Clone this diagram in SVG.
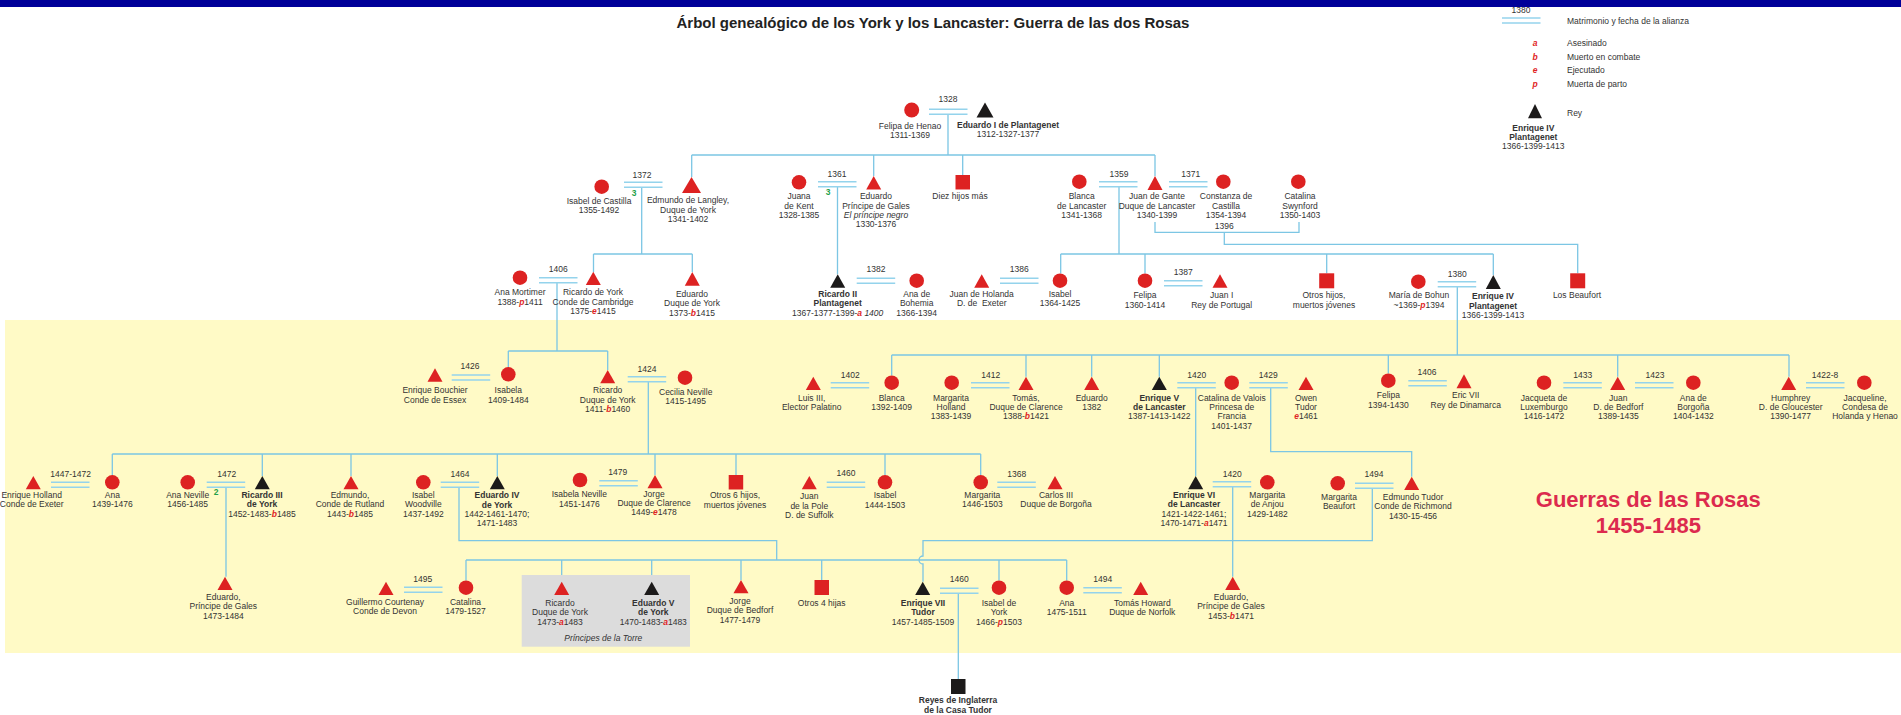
<svg xmlns="http://www.w3.org/2000/svg" xmlns:xlink="http://www.w3.org/1999/xlink" width="1901" height="715" viewBox="0 0 1901 715">
<style>
.t{font-family:"Liberation Sans",Arial,sans-serif;font-size:8.5px;fill:#333;text-anchor:middle}
.l{text-anchor:start}
.b{font-weight:bold}
.r{fill:#E02424;font-weight:bold;font-style:italic}
.i{font-style:italic}
.g{fill:#1FA04A;font-weight:bold}
.red{fill:#DD2222}
.blk{fill:#1C1A1A}
.ln{stroke:#7CC6E4;stroke-width:1.3;fill:none}
.mar line{stroke:#94D3EC;stroke-width:1.6}
.title{font-family:"Liberation Sans",Arial,sans-serif;font-size:15px;font-weight:bold;fill:#222;text-anchor:middle}
.war{font-family:"Liberation Sans",Arial,sans-serif;font-size:22px;font-weight:bold;fill:#DC2A4E;text-anchor:middle}
</style>
<defs>
<g id="m" class="mar"><line x1="0" y1="0" x2="38.5" y2="0"/><line x1="0" y1="5" x2="38.5" y2="5"/></g>
</defs>
<rect x="0" y="0" width="1901" height="715" fill="#fff"/>
<rect x="5" y="320" width="1896" height="333" fill="#FFFAC6"/>
<text class="title" x="933" y="28">Árbol genealógico de los York y los Lancaster: Guerra de las dos Rosas</text>

<g id="legend">
<text class="t" x="1521" y="12.5">1380</text>
<use href="#m" x="1502" y="18"/>
<text class="t l" x="1567" y="23.5">Matrimonio y fecha de la alianza</text>
<text class="t r" x="1535" y="46">a</text><text class="t l" x="1567" y="46">Asesinado</text>
<text class="t r" x="1535" y="60">b</text><text class="t l" x="1567" y="60">Muerto en combate</text>
<text class="t r" x="1535" y="73">e</text><text class="t l" x="1567" y="73">Ejecutado</text>
<text class="t r" x="1535" y="87">p</text><text class="t l" x="1567" y="87">Muerta de parto</text>
<path class="blk" d="M1535 104L1542 118.3L1528 118.3Z"/>
<text class="t l" x="1567" y="115.5">Rey</text>
<text class="t"><tspan class="b" x="1533.3" y="130.7">Enrique IV</tspan><tspan class="b" x="1533.3" y="140">Plantagenet</tspan><tspan x="1533.3" y="149.3">1366-1399-1413</tspan></text>
</g>
<rect x="0" y="0" width="1901" height="7" fill="#000099"/>

<g id="connectors">
<path class="ln" d="M948 115V155M691.7 155H1155M691.7 155V177M873.7 155V176M962.7 155V175M1155 155V176
M641.7 188V254M593.5 254H692.3M593.5 254V272M692.3 254V272
M837.5 187V274.3
M1119 187V254M1060.7 254H1493.3M1060.7 254V273.4M1145 254V273.4M1326.7 254V273.3M1493.3 254V275
M1155 222V232.3H1299V222M1224.3 232.3V244.3H1577.7V273.3
M557 283V351M508.3 351H607.7M508.3 351V367M607.7 351V370
M1457.3 287V355M891.7 355H1789M891.7 355V375.4M1026 355V376.7M1091.7 355V376.7M1159.3 355V376.7M1388.3 355V373.4M1617.7 355V376.7M1789 355V376.7
M648.3 382V454M112.3 454H980.7M112.3 454V475M262.3 454V476M351 454V476M497.3 454V476M655 454V475M736 454V475M885 454V475M980.7 454V475
M1195.7 388V476M1270.7 388V451.7H1411.7V476.7
M226 487V576.7
M459 487V540.7H776.7V560M466 560H1066.7M466 560V580.4M561.7 560V581.7M651.7 560V581.7M741 560V580M821.7 560V580M999 560V580.4M1066.7 560V580.4
M1232.7 486V576.7
M1372.3 488V540.7H923V556A4 4 0 0 0 923 564V581.7
M958.3 593V679"/>
<use href="#m" x="929" y="109.3"/><text class="t" x="948" y="102">1328</text>
<use href="#m" x="624" y="182.3"/><text class="t" x="642" y="178">1372</text><text class="t g" x="634" y="196">3</text>
<use href="#m" x="818" y="181.7"/><text class="t" x="837" y="177">1361</text><text class="t g" x="828" y="195">3</text>
<use href="#m" x="1099" y="181.7"/><text class="t" x="1119" y="177">1359</text>
<use href="#m" x="1169" y="181.7"/><text class="t" x="1190.7" y="177">1371</text>
<text class="t" x="1224.3" y="229">1396</text>
<use href="#m" x="539" y="277.7"/><text class="t" x="558.3" y="272.3">1406</text>
<use href="#m" x="856.7" y="278.3"/><text class="t" x="876" y="272.3">1382</text>
<use href="#m" x="1000" y="278.3"/><text class="t" x="1019.3" y="272.3">1386</text>
<use href="#m" x="1164" y="280.7"/><text class="t" x="1183.3" y="275">1387</text>
<use href="#m" x="1437.7" y="281.7"/><text class="t" x="1457.3" y="276.7">1380</text>
<use href="#m" x="451.7" y="375"/><text class="t" x="470" y="369.3">1426</text>
<use href="#m" x="627.7" y="376.7"/><text class="t" x="647" y="371.7">1424</text>
<use href="#m" x="830.7" y="382.7"/><text class="t" x="850.3" y="377.7">1402</text>
<use href="#m" x="971" y="382.7"/><text class="t" x="990.7" y="377.7">1412</text>
<use href="#m" x="1177.3" y="382.7"/><text class="t" x="1196.7" y="377.7">1420</text>
<use href="#m" x="1249.3" y="382.7"/><text class="t" x="1268.3" y="377.7">1429</text>
<use href="#m" x="1408.3" y="380.7"/><text class="t" x="1427" y="375">1406</text>
<use href="#m" x="1563.3" y="382.7"/><text class="t" x="1582.7" y="377.7">1433</text>
<use href="#m" x="1635" y="382.7"/><text class="t" x="1655" y="377.7">1423</text>
<use href="#m" x="1806" y="382.7"/><text class="t" x="1825" y="377.7">1422-8</text>
<use href="#m" x="51" y="482.3"/><text class="t" x="70.7" y="476.7">1447-1472</text>
<use href="#m" x="206.7" y="482.3"/><text class="t" x="226.7" y="476.7">1472</text><text class="t g" x="216" y="495">2</text>
<use href="#m" x="440.7" y="482.3"/><text class="t" x="460" y="476.7">1464</text>
<use href="#m" x="599.3" y="480.7"/><text class="t" x="617.7" y="474.5">1479</text>
<use href="#m" x="826.7" y="482.3"/><text class="t" x="846" y="476">1460</text>
<use href="#m" x="997.3" y="482.3"/><text class="t" x="1016.7" y="476.7">1368</text>
<use href="#m" x="1212.7" y="481.7"/><text class="t" x="1232.3" y="476.7">1420</text>
<use href="#m" x="1355" y="483.3"/><text class="t" x="1374" y="477.3">1494</text>
<use href="#m" x="404" y="587.3"/><text class="t" x="422.7" y="581.7">1495</text>
<use href="#m" x="940" y="588.3"/><text class="t" x="959.3" y="582.3">1460</text>
<use href="#m" x="1083.3" y="587.7"/><text class="t" x="1102.7" y="581.7">1494</text>
</g>

<g id="n-felipa-henao"><circle class="red" cx="911.7" cy="110" r="7.5"/><text class="t"><tspan x="910" y="129">Felipa de Henao</tspan><tspan x="910" y="138">1311-1369</tspan></text></g>
<g id="n-eduardo-i"><path class="blk" d="M985 102.5L993.5 117.5L976.5 117.5Z"/><text class="t"><tspan class="b" x="1008" y="128">Eduardo I de Plantagenet</tspan><tspan x="1008" y="137">1312-1327-1377</tspan></text></g>
<g id="n-isabel-castilla"><circle class="red" cx="601.7" cy="186.7" r="7.3"/><text class="t"><tspan x="599" y="204">Isabel de Castilla</tspan><tspan x="599" y="213">1355-1492</tspan></text></g>
<g id="n-edmundo-langley"><path class="red" d="M691.5 177L701 193L682 193Z"/><text class="t"><tspan x="688" y="203">Edmundo de Langley,</tspan><tspan x="688" y="212.5">Duque de York</tspan><tspan x="688" y="222">1341-1402</tspan></text></g>
<g id="n-juana-kent"><circle class="red" cx="799" cy="182.3" r="7.3"/><text class="t"><tspan x="799" y="199">Juana</tspan><tspan x="799" y="208.5">de Kent</tspan><tspan x="799" y="218">1328-1385</tspan></text></g>
<g id="n-eduardo-principe-negro"><path class="red" d="M873.7 176L881.2 189.5L866.2 189.5Z"/><text class="t"><tspan x="876" y="199">Eduardo</tspan><tspan x="876" y="208.5">Príncipe de Gales</tspan><tspan class="i" x="876" y="218">El príncipe negro</tspan><tspan x="876" y="227">1330-1376</tspan></text></g>
<g id="n-diez-hijos"><rect class="red" x="955.5" y="175" width="14.5" height="14.5"/><text class="t" x="960" y="199">Diez hijos más</text></g>
<g id="n-blanca-lancaster"><circle class="red" cx="1079.3" cy="181.7" r="7.3"/><text class="t"><tspan x="1081.7" y="199">Blanca</tspan><tspan x="1081.7" y="208.5">de Lancaster</tspan><tspan x="1081.7" y="218">1341-1368</tspan></text></g>
<g id="n-juan-gante"><path class="red" d="M1155 176L1162.5 190L1147.5 190Z"/><text class="t"><tspan x="1157" y="199">Juan de Gante</tspan><tspan x="1157" y="208.5">Duque de Lancaster</tspan><tspan x="1157" y="218">1340-1399</tspan></text></g>
<g id="n-constanza"><circle class="red" cx="1223.3" cy="181.7" r="7.3"/><text class="t"><tspan x="1226" y="199">Constanza de</tspan><tspan x="1226" y="208.5">Castilla</tspan><tspan x="1226" y="218">1354-1394</tspan></text></g>
<g id="n-catalina-swynford"><circle class="red" cx="1298.3" cy="181.7" r="7.3"/><text class="t"><tspan x="1300" y="199">Catalina</tspan><tspan x="1300" y="208.5">Swynford</tspan><tspan x="1300" y="218">1350-1403</tspan></text></g>

<g id="n-ana-mortimer"><circle class="red" cx="520" cy="277.7" r="7.3"/><text class="t"><tspan x="520" y="295">Ana Mortimer</tspan><tspan x="520" y="304.5">1388-<tspan class="r">p</tspan>1411</tspan></text></g>
<g id="n-ricardo-cambridge"><path class="red" d="M593.3 271.7L600.8 285L585.8 285Z"/><text class="t"><tspan x="593" y="295">Ricardo de York</tspan><tspan x="593" y="304.5">Conde de Cambridge</tspan><tspan x="593" y="314">1375-<tspan class="r">e</tspan>1415</tspan></text></g>
<g id="n-eduardo-york"><path class="red" d="M692.3 272L699.8 285.7L684.8 285.7Z"/><text class="t"><tspan x="692" y="296.7">Eduardo</tspan><tspan x="692" y="306">Duque de York</tspan><tspan x="692" y="315.5">1373-<tspan class="r">b</tspan>1415</tspan></text></g>
<g id="n-ricardo-ii"><path class="blk" d="M837.7 274.3L845.2 287.7L830.2 287.7Z"/><text class="t"><tspan class="b" x="837.7" y="296.7">Ricardo II</tspan><tspan class="b" x="837.7" y="306">Plantagenet</tspan><tspan x="837.7" y="315.5">1367-1377-1399-<tspan class="r">a</tspan><tspan class="i"> 1400</tspan></tspan></text></g>
<g id="n-ana-bohemia"><circle class="red" cx="916.7" cy="280.7" r="7.3"/><text class="t"><tspan x="916.7" y="296.7">Ana de</tspan><tspan x="916.7" y="306">Bohemia</tspan><tspan x="916.7" y="315.5">1366-1394</tspan></text></g>
<g id="n-juan-holanda"><path class="red" d="M981.7 274.3L989.2 287.7L974.2 287.7Z"/><text class="t"><tspan x="981.7" y="296.7">Juan de Holanda</tspan><tspan x="981.7" y="306" xml:space="preserve">D. de  Exeter</tspan></text></g>
<g id="n-isabel-1364"><circle class="red" cx="1060" cy="280.7" r="7.3"/><text class="t"><tspan x="1060" y="296.7">Isabel</tspan><tspan x="1060" y="306">1364-1425</tspan></text></g>
<g id="n-felipa-1360"><circle class="red" cx="1145" cy="280.7" r="7.3"/><text class="t"><tspan x="1145" y="298.3">Felipa</tspan><tspan x="1145" y="307.7">1360-1414</tspan></text></g>
<g id="n-juan-i"><path class="red" d="M1220 274.3L1227.5 287.7L1212.5 287.7Z"/><text class="t"><tspan x="1221.7" y="298.3">Juan I</tspan><tspan x="1221.7" y="307.7">Rey de Portugal</tspan></text></g>
<g id="n-otros-hijos"><rect class="red" x="1319.2" y="273.3" width="15" height="15"/><text class="t"><tspan x="1324" y="298.3">Otros hijos,</tspan><tspan x="1324" y="307.7">muertos jóvenes</tspan></text></g>
<g id="n-maria-bohun"><circle class="red" cx="1418.3" cy="281.7" r="7.3"/><text class="t"><tspan x="1419" y="298.3">María de Bohun</tspan><tspan x="1419" y="307.7">~1369-<tspan class="r">p</tspan>1394</tspan></text></g>
<g id="n-enrique-iv"><path class="blk" d="M1493.3 275L1500.8 289L1485.8 289Z"/><text class="t"><tspan class="b" x="1493" y="299.3">Enrique IV</tspan><tspan class="b" x="1493" y="308.7">Plantagenet</tspan><tspan x="1493" y="318">1366-1399-1413</tspan></text></g>
<g id="n-los-beaufort"><rect class="red" x="1570.2" y="273.3" width="15" height="15"/><text class="t" x="1577" y="298.3">Los Beaufort</text></g>

<g id="n-enrique-bouchier"><path class="red" d="M435 368.3L442.5 381.7L427.5 381.7Z"/><text class="t"><tspan x="435" y="393.3">Enrique Bouchier</tspan><tspan x="435" y="402.7">Conde de Essex</tspan></text></g>
<g id="n-isabela"><circle class="red" cx="508.3" cy="374.3" r="7.3"/><text class="t"><tspan x="508.3" y="393.3">Isabela</tspan><tspan x="508.3" y="402.7">1409-1484</tspan></text></g>
<g id="n-ricardo-york"><path class="red" d="M607.7 370L615.2 383.3L600.2 383.3Z"/><text class="t"><tspan x="607.7" y="393.3">Ricardo</tspan><tspan x="607.7" y="402.7">Duque de York</tspan><tspan x="607.7" y="412">1411-<tspan class="r">b</tspan>1460</tspan></text></g>
<g id="n-cecilia-neville"><circle class="red" cx="685" cy="377.7" r="7.3"/><text class="t"><tspan x="685.7" y="395">Cecilia Neville</tspan><tspan x="685.7" y="404.3">1415-1495</tspan></text></g>
<g id="n-luis-iii"><path class="red" d="M813.3 376.7L820.8 390L805.8 390Z"/><text class="t"><tspan x="811.7" y="400.7">Luis III,</tspan><tspan x="811.7" y="410">Elector Palatino</tspan></text></g>
<g id="n-blanca-1392"><circle class="red" cx="891.7" cy="382.7" r="7.3"/><text class="t"><tspan x="891.7" y="400.7">Blanca</tspan><tspan x="891.7" y="410">1392-1409</tspan></text></g>
<g id="n-margarita-holland"><circle class="red" cx="951.7" cy="382.7" r="7.3"/><text class="t"><tspan x="951" y="400.7">Margarita</tspan><tspan x="951" y="410">Holland</tspan><tspan x="951" y="419.3">1383-1439</tspan></text></g>
<g id="n-tomas-clarence"><path class="red" d="M1026 376.7L1033.5 390L1018.5 390Z"/><text class="t"><tspan x="1026" y="400.7">Tomás,</tspan><tspan x="1026" y="410">Duque de Clarence</tspan><tspan x="1026" y="419.3">1388-<tspan class="r">b</tspan>1421</tspan></text></g>
<g id="n-eduardo-1382"><path class="red" d="M1091.7 376.7L1099.2 390L1084.2 390Z"/><text class="t"><tspan x="1091.7" y="400.7">Eduardo</tspan><tspan x="1091.7" y="410">1382</tspan></text></g>
<g id="n-enrique-v"><path class="blk" d="M1159.3 376.7L1166.8 390L1151.8 390Z"/><text class="t"><tspan class="b" x="1159.3" y="400.7">Enrique V</tspan><tspan class="b" x="1159.3" y="410">de Lancaster</tspan><tspan x="1159.3" y="419.3">1387-1413-1422</tspan></text></g>
<g id="n-catalina-valois"><circle class="red" cx="1231.7" cy="382.7" r="7.3"/><text class="t"><tspan x="1231.7" y="400.7">Catalina de Valois</tspan><tspan x="1231.7" y="410">Princesa de</tspan><tspan x="1231.7" y="419.3">Francia</tspan><tspan x="1231.7" y="428.7">1401-1437</tspan></text></g>
<g id="n-owen-tudor"><path class="red" d="M1306 376.7L1313.5 390L1298.5 390Z"/><text class="t"><tspan x="1306" y="400.7">Owen</tspan><tspan x="1306" y="410">Tudor</tspan><tspan x="1306" y="419.3"><tspan class="r">e</tspan>1461</tspan></text></g>
<g id="n-felipa-1394"><circle class="red" cx="1388.3" cy="380.7" r="7.3"/><text class="t"><tspan x="1388.3" y="398.3">Felipa</tspan><tspan x="1388.3" y="407.7">1394-1430</tspan></text></g>
<g id="n-eric-vii"><path class="red" d="M1464 374.3L1471.5 388.3L1456.5 388.3Z"/><text class="t"><tspan x="1465.7" y="398.3">Eric VII</tspan><tspan x="1465.7" y="407.7">Rey de Dinamarca</tspan></text></g>
<g id="n-jacqueta"><circle class="red" cx="1544" cy="382.7" r="7.3"/><text class="t"><tspan x="1544" y="400.7">Jacqueta de</tspan><tspan x="1544" y="410">Luxemburgo</tspan><tspan x="1544" y="419.3">1416-1472</tspan></text></g>
<g id="n-juan-bedforf"><path class="red" d="M1617.7 376.7L1625.2 390L1610.2 390Z"/><text class="t"><tspan x="1618.3" y="400.7">Juan</tspan><tspan x="1618.3" y="410">D. de Bedforf</tspan><tspan x="1618.3" y="419.3">1389-1435</tspan></text></g>
<g id="n-ana-borgona"><circle class="red" cx="1693.3" cy="382.7" r="7.3"/><text class="t"><tspan x="1693.3" y="400.7">Ana de</tspan><tspan x="1693.3" y="410">Borgoña</tspan><tspan x="1693.3" y="419.3">1404-1432</tspan></text></g>
<g id="n-humphrey"><path class="red" d="M1788.7 376.7L1796.2 390L1781.2 390Z"/><text class="t"><tspan x="1790.7" y="400.7">Humphrey</tspan><tspan x="1790.7" y="410">D. de Gloucester</tspan><tspan x="1790.7" y="419.3">1390-1477</tspan></text></g>
<g id="n-jacqueline"><circle class="red" cx="1864.3" cy="382.7" r="7.3"/><text class="t"><tspan x="1865" y="400.7">Jacqueline,</tspan><tspan x="1865" y="410">Condesa de</tspan><tspan x="1865" y="419.3">Holanda y Henao</tspan></text></g>

<g id="n-enrique-holland"><path class="red" d="M33.3 476L40.8 489.3L25.8 489.3Z"/><text class="t"><tspan x="31.7" y="497.7">Enrique Holland</tspan><tspan x="31.7" y="507">Conde de Exeter</tspan></text></g>
<g id="n-ana-1439"><circle class="red" cx="112.3" cy="482.3" r="7.3"/><text class="t"><tspan x="112.3" y="497.7">Ana</tspan><tspan x="112.3" y="507">1439-1476</tspan></text></g>
<g id="n-ana-neville"><circle class="red" cx="187.7" cy="482.3" r="7.3"/><text class="t"><tspan x="187.7" y="497.7">Ana Neville</tspan><tspan x="187.7" y="507">1456-1485</tspan></text></g>
<g id="n-ricardo-iii"><path class="blk" d="M262.3 476L269.8 489.3L254.8 489.3Z"/><text class="t"><tspan class="b" x="262" y="497.7">Ricardo III</tspan><tspan class="b" x="262" y="507">de York</tspan><tspan x="262" y="516.7">1452-1483-<tspan class="r">b</tspan>1485</tspan></text></g>
<g id="n-edmundo-rutland"><path class="red" d="M351 476L358.5 489.3L343.5 489.3Z"/><text class="t"><tspan x="350" y="497.7">Edmundo,</tspan><tspan x="350" y="507">Conde de Rutland</tspan><tspan x="350" y="516.7">1443-<tspan class="r">b</tspan>1485</tspan></text></g>
<g id="n-isabel-woodville"><circle class="red" cx="423.3" cy="482.3" r="7.3"/><text class="t"><tspan x="423.3" y="497.7">Isabel</tspan><tspan x="423.3" y="507">Woodville</tspan><tspan x="423.3" y="516.7">1437-1492</tspan></text></g>
<g id="n-eduardo-iv"><path class="blk" d="M497.3 476L504.8 489.3L489.8 489.3Z"/><text class="t"><tspan class="b" x="497" y="498.3">Eduardo IV</tspan><tspan class="b" x="497" y="507.7">de York</tspan><tspan x="497" y="517">1442-1461-1470;</tspan><tspan x="497" y="526.3">1471-1483</tspan></text></g>
<g id="n-isabela-neville"><circle class="red" cx="580" cy="480" r="7.3"/><text class="t"><tspan x="579.3" y="497.3">Isabela Neville</tspan><tspan x="579.3" y="506.7">1451-1476</tspan></text></g>
<g id="n-jorge-clarence"><path class="red" d="M655 475L662.5 488.3L647.5 488.3Z"/><text class="t"><tspan x="654" y="496.7">Jorge</tspan><tspan x="654" y="506">Duque de Clarence</tspan><tspan x="654" y="515.3">1449-<tspan class="r">e</tspan>1478</tspan></text></g>
<g id="n-otros-6"><rect class="red" x="728.7" y="475" width="14.5" height="14.5"/><text class="t"><tspan x="735" y="498.3">Otros 6 hijos,</tspan><tspan x="735" y="507.7">muertos jóvenes</tspan></text></g>
<g id="n-juan-pole"><path class="red" d="M809.3 476L816.8 489.3L801.8 489.3Z"/><text class="t"><tspan x="809.3" y="499.3">Juan</tspan><tspan x="809.3" y="508.7">de la Pole</tspan><tspan x="809.3" y="518">D. de Suffolk</tspan></text></g>
<g id="n-isabel-1444"><circle class="red" cx="885" cy="482.3" r="7.3"/><text class="t"><tspan x="885" y="498.3">Isabel</tspan><tspan x="885" y="507.7">1444-1503</tspan></text></g>
<g id="n-margarita-1446"><circle class="red" cx="980.7" cy="482.3" r="7.3"/><text class="t"><tspan x="982.3" y="497.7">Margarita</tspan><tspan x="982.3" y="507">1446-1503</tspan></text></g>
<g id="n-carlos-iii"><path class="red" d="M1055 476L1062.5 489.3L1047.5 489.3Z"/><text class="t"><tspan x="1056" y="497.7">Carlos III</tspan><tspan x="1056" y="507">Duque de Borgoña</tspan></text></g>
<g id="n-enrique-vi"><path class="blk" d="M1195.7 476L1203.2 489.3L1188.2 489.3Z"/><text class="t"><tspan class="b" x="1194" y="497.7">Enrique VI</tspan><tspan class="b" x="1194" y="507">de Lancaster</tspan><tspan x="1194" y="516.7">1421-1422-1461;</tspan><tspan x="1194" y="526">1470-1471-<tspan class="r">a</tspan>1471</tspan></text></g>
<g id="n-margarita-anjou"><circle class="red" cx="1267.3" cy="482.3" r="7.3"/><text class="t"><tspan x="1267.3" y="497.7">Margarita</tspan><tspan x="1267.3" y="507">de Anjou</tspan><tspan x="1267.3" y="516.7">1429-1482</tspan></text></g>
<g id="n-margarita-beaufort"><circle class="red" cx="1337.7" cy="483.3" r="7.3"/><text class="t"><tspan x="1339" y="500">Margarita</tspan><tspan x="1339" y="509.3">Beaufort</tspan></text></g>
<g id="n-edmundo-tudor"><path class="red" d="M1411.7 476.7L1419.2 490L1404.2 490Z"/><text class="t"><tspan x="1413" y="500">Edmundo Tudor</tspan><tspan x="1413" y="509.3">Conde de Richmond</tspan><tspan x="1413" y="518.7">1430-15-456</tspan></text></g>

<rect x="521.7" y="575" width="168.3" height="71.7" fill="#DCDCDC"/>
<text class="t i" x="603.3" y="641">Príncipes de la Torre</text>

<g id="n-eduardo-gales-1473"><path class="red" d="M225 576.7L232.5 590L217.5 590Z"/><text class="t"><tspan x="223.3" y="600">Eduardo,</tspan><tspan x="223.3" y="609.3">Príncipe de Gales</tspan><tspan x="223.3" y="619">1473-1484</tspan></text></g>
<g id="n-guillermo-courtenay"><path class="red" d="M386 581.7L393.5 595L378.5 595Z"/><text class="t"><tspan x="385" y="605">Guillermo Courtenay</tspan><tspan x="385" y="614.3">Conde de Devon</tspan></text></g>
<g id="n-catalina-1479"><circle class="red" cx="466" cy="587.7" r="7.3"/><text class="t"><tspan x="465.5" y="605">Catalina</tspan><tspan x="465.5" y="614.3">1479-1527</tspan></text></g>
<g id="n-ricardo-torre"><path class="red" d="M561.7 581.7L569.2 595L554.2 595Z"/><text class="t"><tspan x="560" y="606">Ricardo</tspan><tspan x="560" y="615.3">Duque de York</tspan><tspan x="560" y="624.7">1473-<tspan class="r">a</tspan>1483</tspan></text></g>
<g id="n-eduardo-v"><path class="blk" d="M651.7 581.7L659.2 595L644.2 595Z"/><text class="t"><tspan class="b" x="653.3" y="606">Eduardo V</tspan><tspan class="b" x="653.3" y="615.3">de York</tspan><tspan x="653.3" y="624.7">1470-1483-<tspan class="r">a</tspan>1483</tspan></text></g>
<g id="n-jorge-bedforf"><path class="red" d="M741 580L748.5 593.3L733.5 593.3Z"/><text class="t"><tspan x="740" y="604">Jorge</tspan><tspan x="740" y="613.3">Duque de Bedforf</tspan><tspan x="740" y="622.7">1477-1479</tspan></text></g>
<g id="n-otros-4"><rect class="red" x="814.5" y="580" width="14.5" height="15"/><text class="t" x="821.7" y="605.7">Otros 4 hijas</text></g>
<g id="n-enrique-vii"><path class="blk" d="M922.7 581.7L930.2 595L915.2 595Z"/><text class="t"><tspan class="b" x="923" y="606">Enrique VII</tspan><tspan class="b" x="923" y="615.3">Tudor</tspan><tspan x="923" y="624.7">1457-1485-1509</tspan></text></g>
<g id="n-isabel-york"><circle class="red" cx="999" cy="587.7" r="7.3"/><text class="t"><tspan x="999" y="606">Isabel de</tspan><tspan x="999" y="615.3">York</tspan><tspan x="999" y="624.7">1466-<tspan class="r">p</tspan>1503</tspan></text></g>
<g id="n-ana-1475"><circle class="red" cx="1066.7" cy="587.7" r="7.3"/><text class="t"><tspan x="1066.7" y="606">Ana</tspan><tspan x="1066.7" y="615.3">1475-1511</tspan></text></g>
<g id="n-tomas-howard"><path class="red" d="M1140.7 581.7L1148.2 595L1133.2 595Z"/><text class="t"><tspan x="1142.3" y="606">Tomás Howard</tspan><tspan x="1142.3" y="615.3">Duque de Norfolk</tspan></text></g>
<g id="n-eduardo-gales-1453"><path class="red" d="M1232.7 576.7L1240.2 590L1225.2 590Z"/><text class="t"><tspan x="1231" y="600">Eduardo,</tspan><tspan x="1231" y="609.3">Príncipe de Gales</tspan><tspan x="1231" y="619">1453-<tspan class="r">b</tspan>1471</tspan></text></g>
<g id="n-reyes-tudor"><rect class="blk" x="951" y="679" width="14.5" height="15"/><text class="t b"><tspan x="958" y="703.3">Reyes de Inglaterra</tspan><tspan x="958" y="712.5">de la Casa Tudor</tspan></text></g>

<text class="war"><tspan x="1648.3" y="507.3">Guerras de las Rosas</tspan><tspan x="1648.3" y="532.5">1455-1485</tspan></text>
</svg>
